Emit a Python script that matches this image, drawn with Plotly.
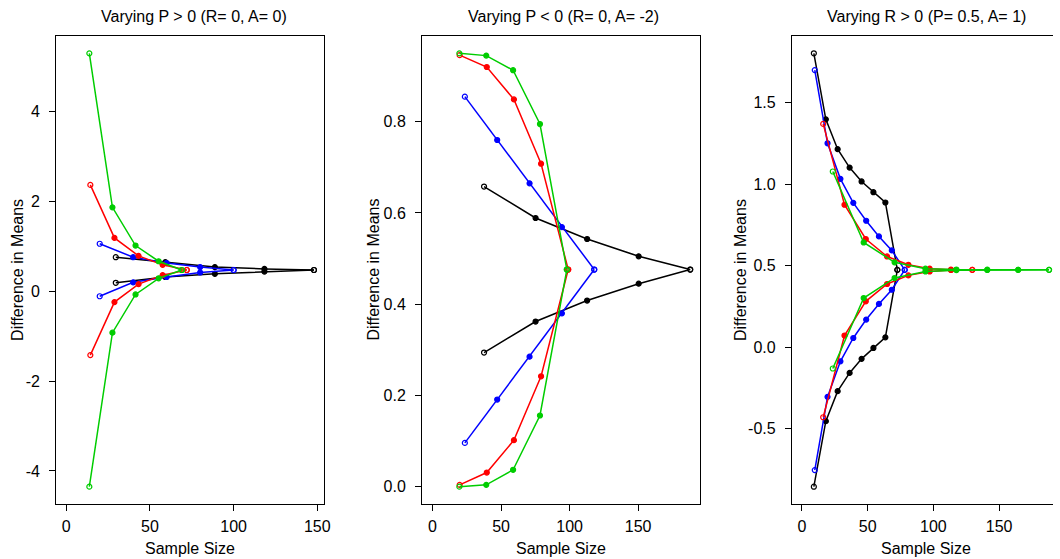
import plotly.graph_objects as go

# sample sizes, upper branch and lower branch for every colour and panel
# panel 1: Varying P > 0 (R= 0, A= 0)
p1_n_black = [29.6, 59.2, 88.8, 118.4, 148]
p1_up_black = [0.76, 0.65, 0.54, 0.50, 0.475]
p1_lo_black = [0.19, 0.32, 0.39, 0.44, 0.475]
p1_n_blue = [20, 40, 60, 80, 100]
p1_up_blue = [1.06, 0.76, 0.63, 0.54, 0.475]
p1_lo_blue = [-0.11, 0.20, 0.32, 0.42, 0.475]
p1_n_red = [14.4, 28.8, 43.2, 57.6, 72]
p1_up_red = [2.37, 1.19, 0.79, 0.59, 0.475]
p1_lo_red = [-1.42, -0.24, 0.16, 0.36, 0.475]
p1_n_green = [13.8, 27.6, 41.4, 55.2, 69]
p1_up_green = [5.30, 1.87, 1.02, 0.67, 0.475]
p1_lo_green = [-4.35, -0.92, -0.07, 0.29, 0.475]

# panel 2: Varying P < 0 (R= 0, A= -2)
p2_n_black = [37.6, 75.2, 112.8, 150.4, 188]
p2_up_black = [0.658, 0.589, 0.543, 0.505, 0.476]
p2_lo_black = [0.294, 0.362, 0.408, 0.445, 0.476]
p2_n_blue = [23.6, 47.2, 70.8, 94.4, 118]
p2_up_blue = [0.855, 0.760, 0.665, 0.569, 0.476]
p2_lo_blue = [0.096, 0.191, 0.285, 0.380, 0.476]
p2_n_red = [19.8, 39.6, 59.4, 79.2, 99]
p2_up_red = [0.946, 0.920, 0.849, 0.708, 0.476]
p2_lo_red = [0.004, 0.031, 0.102, 0.242, 0.476]
p2_n_green = [19.6, 39.2, 58.8, 78.4, 98]
p2_up_green = [0.950, 0.945, 0.913, 0.795, 0.476]
p2_lo_green = [0.0, 0.004, 0.037, 0.156, 0.476]

# panel 3: Varying R > 0 (P= 0.5, A= 1)
p3_n_black = [9.1, 18.2, 27.2, 36.3, 45.4, 54.4, 63.5, 72.6]
p3_up_black = [1.803, 1.398, 1.215, 1.102, 1.017, 0.951, 0.888, 0.475]
p3_lo_black = [-0.855, -0.453, -0.269, -0.157, -0.071, -0.004, 0.061, 0.475]
p3_n_blue = [9.8, 19.5, 29.3, 39.1, 48.9, 58.6, 68.4, 78.2]
p3_up_blue = [1.70, 1.251, 1.033, 0.886, 0.776, 0.680, 0.594, 0.475]
p3_lo_blue = [-0.753, -0.304, -0.086, 0.057, 0.170, 0.266, 0.353, 0.475]
p3_n_red = [16.2, 32.4, 48.6, 64.8, 81, 97.2, 113.4, 129.6]
p3_up_red = [1.370, 0.874, 0.664, 0.557, 0.506, 0.482, 0.476, 0.475]
p3_lo_red = [-0.429, 0.072, 0.282, 0.388, 0.441, 0.465, 0.474, 0.475]
p3_n_green = [23.5, 47, 70.5, 94, 117.5, 141, 164.5, 188]
p3_up_green = [1.078, 0.643, 0.521, 0.482, 0.477, 0.476, 0.475, 0.475]
p3_lo_green = [-0.130, 0.302, 0.425, 0.465, 0.473, 0.474, 0.475, 0.475]

titles = ["Varying P > 0 (R= 0, A= 0)", "Varying P < 0 (R= 0, A= -2)",
          "Varying R > 0 (P= 0.5, A= 1)"]
x_ticks = [0, 50, 100, 150]
p1_y_ticks = [-4, -2, 0, 2, 4]
p1_y_text = ["-4", "-2", "0", "2", "4"]
p2_y_ticks = [0, 0.2, 0.4, 0.6, 0.8]
p2_y_text = ["0.0", "0.2", "0.4", "0.6", "0.8"]
p3_y_ticks = [-0.5, 0, 0.5, 1.0, 1.5]
p3_y_text = ["-0.5", "0.0", "0.5", "1.0", "1.5"]

colors = {"black": "#000000", "blue": "#0000FF", "red": "#FF0000",
          "green": "#00CD00"}
FONT = "Liberation Sans, Arial, sans-serif"
W, H = 1060, 559

panels = [
    {"black": (p1_n_black, p1_up_black, p1_lo_black),
     "blue": (p1_n_blue, p1_up_blue, p1_lo_blue),
     "red": (p1_n_red, p1_up_red, p1_lo_red),
     "green": (p1_n_green, p1_up_green, p1_lo_green)},
    {"black": (p2_n_black, p2_up_black, p2_lo_black),
     "blue": (p2_n_blue, p2_up_blue, p2_lo_blue),
     "red": (p2_n_red, p2_up_red, p2_lo_red),
     "green": (p2_n_green, p2_up_green, p2_lo_green)},
    {"black": (p3_n_black, p3_up_black, p3_lo_black),
     "blue": (p3_n_blue, p3_up_blue, p3_lo_blue),
     "red": (p3_n_red, p3_up_red, p3_lo_red),
     "green": (p3_n_green, p3_up_green, p3_lo_green)},
]

fig = go.Figure()

for i, panel in enumerate(panels):
    suffix = "" if i == 0 else str(i + 1)
    for name, (n, up, lo) in panel.items():
        symbols = ["circle-open"] + ["circle"] * (len(n) - 2) + ["circle-open"]
        for branch in (up, lo):
            fig.add_trace(go.Scatter(
                x=n, y=branch, mode="lines+markers",
                xaxis="x" + suffix, yaxis="y" + suffix,
                line=dict(color=colors[name], width=1.5),
                marker=dict(color=colors[name], size=5, symbol=symbols,
                            line=dict(color=colors[name], width=1.2)),
                showlegend=False, hoverinfo="skip"))

# box positions in pixels (left, right), shared top/bottom
boxes = [(56.7, 326), (425, 705), (797.3, 1060)]
top_px, bottom_px = 36, 504
x_ranges = [[-5.92, 153.9], [-7.52, 195.4], [-7.5, 191.0]]
y_ranges = [[-4.736, 5.686], [-0.038, 0.988], [-0.961, 1.909]]
y_ticks = [(p1_y_ticks, p1_y_text), (p2_y_ticks, p2_y_text),
           (p3_y_ticks, p3_y_text)]

axis_common = dict(showline=True, linecolor="black", linewidth=1.3,
                   showgrid=False, zeroline=False, ticks="outside",
                   ticklen=6, tickwidth=1, tickcolor="black",
                   tickfont=dict(family=FONT, size=16, color="black"))

layout = dict(width=W, height=H, margin=dict(l=0, r=0, t=0, b=0),
              paper_bgcolor="white", plot_bgcolor="white",
              font=dict(family=FONT, size=16, color="black"))

for i in range(3):
    suffix = "" if i == 0 else str(i + 1)
    left, right = boxes[i]
    layout["xaxis" + suffix] = dict(
        axis_common, domain=[left / W, right / W], range=x_ranges[i],
        anchor="y" + suffix, tickvals=x_ticks, mirror=True,
        ticklabelstandoff=2)
    layout["yaxis" + suffix] = dict(
        axis_common, domain=[1 - bottom_px / H, 1 - top_px / H],
        range=y_ranges[i], anchor="x" + suffix,
        tickvals=y_ticks[i][0], ticktext=y_ticks[i][1],
        mirror=(i < 2), ticklabelstandoff=6)

fig.update_layout(**layout)

title_x = [195, 567, 933]
label_x = [191.3, 565, 932]
ytitle_x = [17, 375, 745]
for i in range(3):
    fig.add_annotation(text=titles[i], x=title_x[i] / W, y=1 - 16.5 / H,
                       xref="paper", yref="paper", showarrow=False,
                       xanchor="center", yanchor="middle",
                       font=dict(family=FONT, size=16, color="black"))
    fig.add_annotation(text="Sample Size", x=label_x[i] / W, y=1 - 548 / H,
                       xref="paper", yref="paper", showarrow=False,
                       xanchor="center", yanchor="middle",
                       font=dict(family=FONT, size=16, color="black"))
    fig.add_annotation(text="Difference in Means", x=ytitle_x[i] / W,
                       y=1 - 270 / H, xref="paper", yref="paper",
                       showarrow=False, textangle=-90,
                       xanchor="center", yanchor="middle",
                       font=dict(family=FONT, size=16, color="black"))

# drop the default 8px page margin so the figure fills the window
fig.write_html("out.html",
               config={"displayModeBar": False},
               post_script="document.body.style.margin='0';"
                           "document.body.style.overflow='hidden';")
